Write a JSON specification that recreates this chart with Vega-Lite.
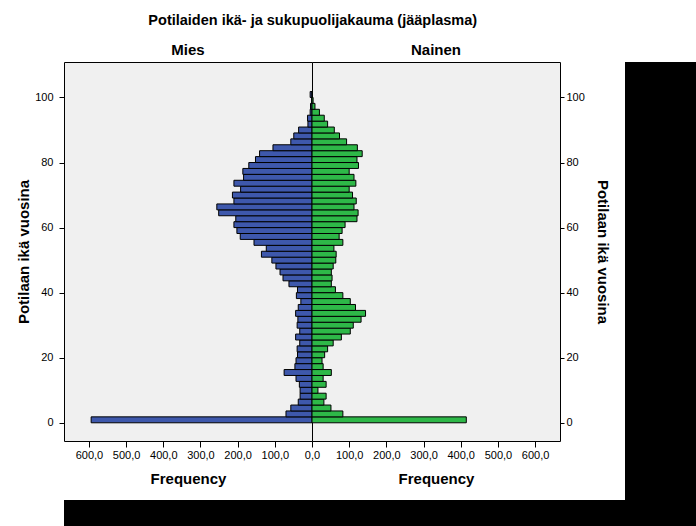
{
  "$schema": "https://vega.github.io/schema/vega-lite/v6.json",
  "padding": {"left": 15, "top": 13, "right": 0, "bottom": 0},
  "background": "white",
  "config": {
    "font": "Liberation Sans",
    "view": {"fill": "#F0F0F0", "stroke": "black", "strokeWidth": 1},
    "title": {"font": "Liberation Sans", "fontSize": 15, "fontWeight": "bold", "color": "black"},
    "axis": {"labelFont": "Liberation Sans", "labelFontSize": 11, "labelColor": "black", "titleFont": "Liberation Sans", "titleFontSize": 15, "titleFontWeight": "bold", "titleColor": "black", "tickColor": "black", "domain": false, "grid": false, "labelFlush": false}
  },
  "datasets": {
    "pyramid": [
      {"sex": "Mies", "from": 0, "to": 1.818, "n": 594},
      {"sex": "Mies", "from": 1.818, "to": 3.636, "n": 70},
      {"sex": "Mies", "from": 3.636, "to": 5.455, "n": 57},
      {"sex": "Mies", "from": 5.455, "to": 7.273, "n": 37},
      {"sex": "Mies", "from": 7.273, "to": 9.091, "n": 32},
      {"sex": "Mies", "from": 9.091, "to": 10.909, "n": 32},
      {"sex": "Mies", "from": 10.909, "to": 12.727, "n": 34},
      {"sex": "Mies", "from": 12.727, "to": 14.545, "n": 43},
      {"sex": "Mies", "from": 14.545, "to": 16.364, "n": 75},
      {"sex": "Mies", "from": 16.364, "to": 18.182, "n": 46},
      {"sex": "Mies", "from": 18.182, "to": 20, "n": 43},
      {"sex": "Mies", "from": 20, "to": 21.818, "n": 39},
      {"sex": "Mies", "from": 21.818, "to": 23.636, "n": 40},
      {"sex": "Mies", "from": 23.636, "to": 25.455, "n": 33},
      {"sex": "Mies", "from": 25.455, "to": 27.273, "n": 44},
      {"sex": "Mies", "from": 27.273, "to": 29.091, "n": 33},
      {"sex": "Mies", "from": 29.091, "to": 30.909, "n": 40},
      {"sex": "Mies", "from": 30.909, "to": 32.727, "n": 38},
      {"sex": "Mies", "from": 32.727, "to": 34.545, "n": 44},
      {"sex": "Mies", "from": 34.545, "to": 36.364, "n": 37},
      {"sex": "Mies", "from": 36.364, "to": 38.182, "n": 30},
      {"sex": "Mies", "from": 38.182, "to": 40, "n": 42},
      {"sex": "Mies", "from": 40, "to": 41.818, "n": 39},
      {"sex": "Mies", "from": 41.818, "to": 43.636, "n": 62},
      {"sex": "Mies", "from": 43.636, "to": 45.455, "n": 78},
      {"sex": "Mies", "from": 45.455, "to": 47.273, "n": 86},
      {"sex": "Mies", "from": 47.273, "to": 49.091, "n": 97},
      {"sex": "Mies", "from": 49.091, "to": 50.909, "n": 108},
      {"sex": "Mies", "from": 50.909, "to": 52.727, "n": 136},
      {"sex": "Mies", "from": 52.727, "to": 54.545, "n": 123},
      {"sex": "Mies", "from": 54.545, "to": 56.364, "n": 156},
      {"sex": "Mies", "from": 56.364, "to": 58.182, "n": 193},
      {"sex": "Mies", "from": 58.182, "to": 60, "n": 202},
      {"sex": "Mies", "from": 60, "to": 61.818, "n": 210},
      {"sex": "Mies", "from": 61.818, "to": 63.636, "n": 205},
      {"sex": "Mies", "from": 63.636, "to": 65.455, "n": 251},
      {"sex": "Mies", "from": 65.455, "to": 67.273, "n": 256},
      {"sex": "Mies", "from": 67.273, "to": 69.091, "n": 210},
      {"sex": "Mies", "from": 69.091, "to": 70.909, "n": 214},
      {"sex": "Mies", "from": 70.909, "to": 72.727, "n": 192},
      {"sex": "Mies", "from": 72.727, "to": 74.545, "n": 210},
      {"sex": "Mies", "from": 74.545, "to": 76.364, "n": 184},
      {"sex": "Mies", "from": 76.364, "to": 78.182, "n": 186},
      {"sex": "Mies", "from": 78.182, "to": 80, "n": 170},
      {"sex": "Mies", "from": 80, "to": 81.818, "n": 152},
      {"sex": "Mies", "from": 81.818, "to": 83.636, "n": 141},
      {"sex": "Mies", "from": 83.636, "to": 85.455, "n": 105},
      {"sex": "Mies", "from": 85.455, "to": 87.273, "n": 57},
      {"sex": "Mies", "from": 87.273, "to": 89.091, "n": 49},
      {"sex": "Mies", "from": 89.091, "to": 90.909, "n": 36},
      {"sex": "Mies", "from": 90.909, "to": 92.727, "n": 11},
      {"sex": "Mies", "from": 92.727, "to": 94.545, "n": 12},
      {"sex": "Mies", "from": 94.545, "to": 96.364, "n": 5},
      {"sex": "Mies", "from": 96.364, "to": 98.182, "n": 4},
      {"sex": "Mies", "from": 98.182, "to": 100, "n": 1},
      {"sex": "Mies", "from": 100, "to": 101.818, "n": 5},
      {"sex": "Nainen", "from": 0, "to": 1.818, "n": 415},
      {"sex": "Nainen", "from": 1.818, "to": 3.636, "n": 83},
      {"sex": "Nainen", "from": 3.636, "to": 5.455, "n": 51},
      {"sex": "Nainen", "from": 5.455, "to": 7.273, "n": 32},
      {"sex": "Nainen", "from": 7.273, "to": 9.091, "n": 38},
      {"sex": "Nainen", "from": 9.091, "to": 10.909, "n": 16},
      {"sex": "Nainen", "from": 10.909, "to": 12.727, "n": 38},
      {"sex": "Nainen", "from": 12.727, "to": 14.545, "n": 30},
      {"sex": "Nainen", "from": 14.545, "to": 16.364, "n": 52},
      {"sex": "Nainen", "from": 16.364, "to": 18.182, "n": 30},
      {"sex": "Nainen", "from": 18.182, "to": 20, "n": 27},
      {"sex": "Nainen", "from": 20, "to": 21.818, "n": 34},
      {"sex": "Nainen", "from": 21.818, "to": 23.636, "n": 42},
      {"sex": "Nainen", "from": 23.636, "to": 25.455, "n": 57},
      {"sex": "Nainen", "from": 25.455, "to": 27.273, "n": 79},
      {"sex": "Nainen", "from": 27.273, "to": 29.091, "n": 103},
      {"sex": "Nainen", "from": 29.091, "to": 30.909, "n": 111},
      {"sex": "Nainen", "from": 30.909, "to": 32.727, "n": 132},
      {"sex": "Nainen", "from": 32.727, "to": 34.545, "n": 144},
      {"sex": "Nainen", "from": 34.545, "to": 36.364, "n": 117},
      {"sex": "Nainen", "from": 36.364, "to": 38.182, "n": 103},
      {"sex": "Nainen", "from": 38.182, "to": 40, "n": 83},
      {"sex": "Nainen", "from": 40, "to": 41.818, "n": 63},
      {"sex": "Nainen", "from": 41.818, "to": 43.636, "n": 52},
      {"sex": "Nainen", "from": 43.636, "to": 45.455, "n": 54},
      {"sex": "Nainen", "from": 45.455, "to": 47.273, "n": 52},
      {"sex": "Nainen", "from": 47.273, "to": 49.091, "n": 57},
      {"sex": "Nainen", "from": 49.091, "to": 50.909, "n": 64},
      {"sex": "Nainen", "from": 50.909, "to": 52.727, "n": 65},
      {"sex": "Nainen", "from": 52.727, "to": 54.545, "n": 59},
      {"sex": "Nainen", "from": 54.545, "to": 56.364, "n": 83},
      {"sex": "Nainen", "from": 56.364, "to": 58.182, "n": 73},
      {"sex": "Nainen", "from": 58.182, "to": 60, "n": 81},
      {"sex": "Nainen", "from": 60, "to": 61.818, "n": 89},
      {"sex": "Nainen", "from": 61.818, "to": 63.636, "n": 121},
      {"sex": "Nainen", "from": 63.636, "to": 65.455, "n": 124},
      {"sex": "Nainen", "from": 65.455, "to": 67.273, "n": 113},
      {"sex": "Nainen", "from": 67.273, "to": 69.091, "n": 119},
      {"sex": "Nainen", "from": 69.091, "to": 70.909, "n": 109},
      {"sex": "Nainen", "from": 70.909, "to": 72.727, "n": 100},
      {"sex": "Nainen", "from": 72.727, "to": 74.545, "n": 118},
      {"sex": "Nainen", "from": 74.545, "to": 76.364, "n": 113},
      {"sex": "Nainen", "from": 76.364, "to": 78.182, "n": 100},
      {"sex": "Nainen", "from": 78.182, "to": 80, "n": 125},
      {"sex": "Nainen", "from": 80, "to": 81.818, "n": 121},
      {"sex": "Nainen", "from": 81.818, "to": 83.636, "n": 135},
      {"sex": "Nainen", "from": 83.636, "to": 85.455, "n": 122},
      {"sex": "Nainen", "from": 85.455, "to": 87.273, "n": 93},
      {"sex": "Nainen", "from": 87.273, "to": 89.091, "n": 74},
      {"sex": "Nainen", "from": 89.091, "to": 90.909, "n": 60},
      {"sex": "Nainen", "from": 90.909, "to": 92.727, "n": 42},
      {"sex": "Nainen", "from": 92.727, "to": 94.545, "n": 33},
      {"sex": "Nainen", "from": 94.545, "to": 96.364, "n": 20},
      {"sex": "Nainen", "from": 96.364, "to": 98.182, "n": 8},
      {"sex": "Nainen", "from": 98.182, "to": 100, "n": 3},
      {"sex": "Nainen", "from": 100, "to": 101.818, "n": 1}
    ]
  },
  "spacing": 0,
  "vconcat": [
    {
      "spacing": 15,
      "hconcat": [
        {
          "title": {"text": "Potilaiden ikä- ja sukupuolijakauma (jääplasma)", "anchor": "middle", "offset": 14, "fontSize": 14.5},
          "spacing": 0,
          "bounds": "flush",
          "hconcat": [
            {
              "width": 248,
              "height": 379,
              "title": {"text": "Mies", "offset": 4},
              "data": {"name": "pyramid"},
              "transform": [{"filter": "datum.sex === 'Mies'"}],
              "mark": {"type": "bar", "fill": "#3E58AC", "stroke": "black", "strokeWidth": 1},
              "encoding": {
                "y": {"field": "from", "type": "quantitative", "scale": {"domain": [-5.6, 110.9], "nice": false, "zero": false},
                      "axis": {"orient": "left", "values": [0, 20, 40, 60, 80, 100], "tickSize": 5, "labelPadding": 6, "title": "Potilaan ikä vuosina", "titlePadding": 3.5}},
                "y2": {"field": "to"},
                "x": {"field": "n", "type": "quantitative", "scale": {"domain": [0, 667], "reverse": true, "nice": false},
                      "axis": {"values": [0, 100, 200, 300, 400, 500, 600], "labelExpr": "replace(format(datum.value, '.1f'), '.', ',')", "tickSize": 6, "labelPadding": 2, "title": "Frequency", "titlePadding": 11}},
                "x2": {"datum": 0}
              }
            },
            {
              "width": 248,
              "height": 379,
              "title": {"text": "Nainen", "offset": 4},
              "data": {"name": "pyramid"},
              "transform": [{"filter": "datum.sex === 'Nainen'"}],
              "mark": {"type": "bar", "fill": "#2EB848", "stroke": "black", "strokeWidth": 1},
              "encoding": {
                "y": {"field": "from", "type": "quantitative", "scale": {"domain": [-5.6, 110.9], "nice": false, "zero": false},
                      "axis": {"orient": "right", "values": [0, 20, 40, 60, 80, 100], "tickSize": 4, "labelPadding": 2, "title": "Potilaan ikä vuosina", "titlePadding": 10}},
                "y2": {"field": "to"},
                "x": {"field": "n", "type": "quantitative", "scale": {"domain": [0, 667], "nice": false},
                      "axis": {"values": [100, 200, 300, 400, 500, 600], "labelExpr": "replace(format(datum.value, '.1f'), '.', ',')", "tickSize": 6, "labelPadding": 2, "title": "Frequency", "titlePadding": 11}},
                "x2": {"datum": 0}
              }
            }
          ]
        },
        {
          "width": 71,
          "height": 438,
          "view": {"fill": "black", "stroke": null},
          "data": {"values": [{"part": "frame"}]},
          "mark": {"type": "point", "opacity": 0},
          "encoding": {}
        }
      ]
    },
    {
      "width": 632,
      "height": 26,
      "view": {"fill": "black", "stroke": null},
      "data": {"values": [{"part": "frame"}]},
      "mark": {"type": "point", "opacity": 0},
      "encoding": {}
    }
  ]
}
